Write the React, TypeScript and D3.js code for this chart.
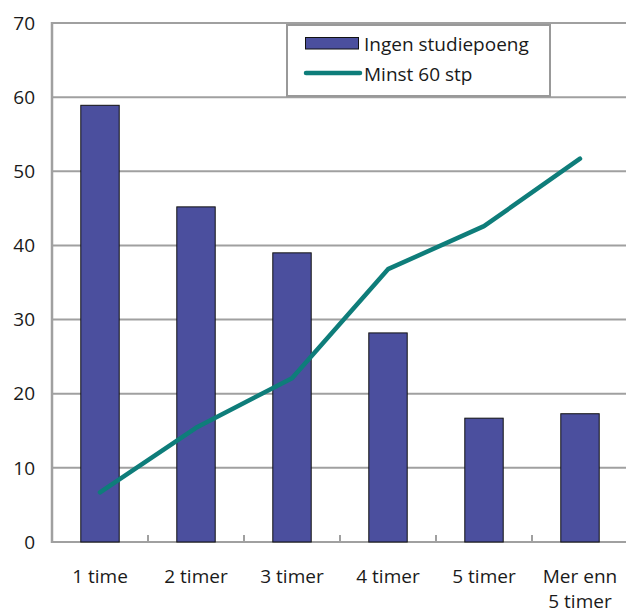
import React from "react";
import * as d3 from "d3";

const categories = ["1 time", "2 timer", "3 timer", "4 timer", "5 timer", "Mer enn 5 timer"];
const barValues = [58.9, 45.2, 39.0, 28.2, 16.7, 17.3];
const lineValues = [6.7, 15.4, 22.1, 36.8, 42.6, 51.7];
const yTicks = [0, 10, 20, 30, 40, 50, 60, 70];
const barLabel = "Ingen studiepoeng";
const lineLabel = "Minst 60 stp";

const W = 626, H = 614;
const left = 52, right = 628, top = 23, bottom = 542;
const FONT = "'Open Sans', 'Noto Sans', sans-serif";

export default function App() {
  const x = d3.scaleBand<string>().domain(categories).range([left, right]).paddingInner(0).paddingOuter(0);
  const y = d3.scaleLinear().domain([0, 70]).range([bottom, top]);
  const bw = x.bandwidth() / 2.5;
  const line = d3.line<number>()
    .x((_, i) => (x(categories[i]) as number) + x.bandwidth() / 2)
    .y((d) => y(d));
  const grid = "#a0a0a0";
  return (
    <svg width={W} height={H} style={{ position: "absolute", left: 0, top: 0 }}>
      <rect width={W} height={H} fill="#fff" />
      {yTicks.map((t) => (
        <g key={t}>
          <line x1={left} x2={W} y1={y(t)} y2={y(t)} stroke={grid} strokeWidth={2} />
          <text x={35} y={y(t)} dy="0.35em" textAnchor="end" fontFamily={FONT} fontSize={19} fill="#1a1a1a">{t}</text>
        </g>
      ))}
      {categories.map((c, i) => (
        i > 0 ? <line key={c} x1={x(c)} x2={x(c)} y1={bottom} y2={bottom - 7} stroke={grid} strokeWidth={2} /> : null
      ))}
      <line x1={left} x2={left} y1={top - 1} y2={bottom + 1} stroke={grid} strokeWidth={2.5} />
      {barValues.map((v, i) => {
        const cx = (x(categories[i]) as number) + x.bandwidth() / 2;
        return (
          <rect key={i} x={cx - bw / 2} y={y(v)} width={bw} height={bottom - y(v)}
            fill="#4b4f9e" stroke="#111" strokeWidth={1} />
        );
      })}
      <path d={line(lineValues) || ""} fill="none" stroke="#0e7d7a" strokeWidth={4.5} strokeLinecap="round" strokeLinejoin="round" />
      {categories.map((c) => {
        const cx = (x(c) as number) + x.bandwidth() / 2;
        const parts = c === "Mer enn 5 timer" ? ["Mer enn", "5 timer"] : [c];
        return (
          <text key={c} x={cx} y={583} textAnchor="middle" fontFamily={FONT} fontSize={19} fill="#1a1a1a">
            {parts.map((p, k) => (
              <tspan key={k} x={cx} dy={k === 0 ? 0 : 25}>{p}</tspan>
            ))}
          </text>
        );
      })}
      <g>
        <rect x={287} y={25} width={263} height={71} fill="#fff" stroke="#999" strokeWidth={2} />
        <rect x={305.5} y={37.5} width={53} height={11.5} fill="#4b4f9e" stroke="#111" strokeWidth={1} />
        <text x={364} y={51} fontFamily={FONT} fontSize={19} fill="#1a1a1a">{barLabel}</text>
        <line x1={306} x2={360} y1={73} y2={73} stroke="#0e7d7a" strokeWidth={4.5} strokeLinecap="round" />
        <text x={364} y={81} fontFamily={FONT} fontSize={19} fill="#1a1a1a">{lineLabel}</text>
      </g>
    </svg>
  );
}
